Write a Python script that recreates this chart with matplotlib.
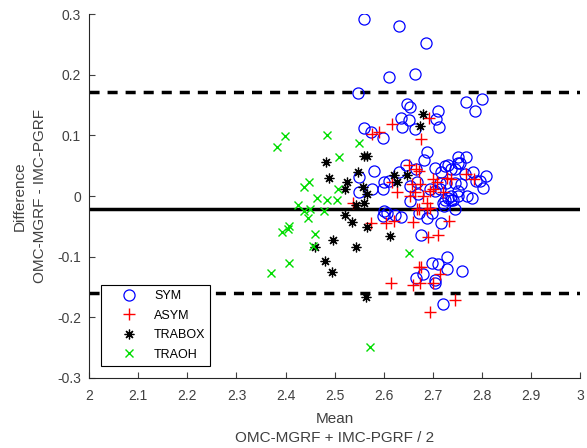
import matplotlib
matplotlib.use('Agg')
import matplotlib.pyplot as plt

plt.rcParams['font.family'] = ['Liberation Sans', 'DejaVu Sans']

# --- data (mean, difference) ---
sym_x = [2.560, 2.631, 2.687, 2.611, 2.663, 2.547, 2.767, 2.800, 2.787, 2.647,
         2.653, 2.710, 2.635, 2.651, 2.637, 2.664, 2.706, 2.712, 2.560, 2.574,
         2.598, 2.689, 2.683, 2.751, 2.768, 2.751, 2.731, 2.581, 2.549, 2.645,
         2.705, 2.717, 2.745, 2.766, 2.783, 2.808, 2.665, 2.632, 2.601, 2.611,
         2.599, 2.576, 2.549, 2.802, 2.796, 2.758, 2.770, 2.780, 2.751, 2.738,
         2.737, 2.721, 2.722, 2.745, 2.705, 2.715, 2.694, 2.654, 2.667, 2.669,
         2.653, 2.601, 2.606, 2.598, 2.623, 2.635, 2.671, 2.688, 2.698, 2.717,
         2.677, 2.729, 2.698, 2.711, 2.729, 2.760, 2.681, 2.666, 2.705, 2.705,
         2.721, 2.725, 2.738, 2.715, 2.728, 2.745, 2.752, 2.732, 2.725, 2.742,
         2.789, 2.755]
sym_y = [0.293, 0.280, 0.252, 0.196, 0.201, 0.170, 0.155, 0.161, 0.141, 0.152,
         0.147, 0.141, 0.128, 0.125, 0.114, 0.110, 0.127, 0.114, 0.113, 0.106,
         0.096, 0.073, 0.059, 0.064, 0.064, 0.054, 0.052, 0.041, 0.032, 0.051,
         0.046, 0.040, 0.044, 0.037, 0.040, 0.033, 0.045, 0.039, 0.023, 0.025,
         0.011, 0.012, 0.006, 0.013, 0.025, 0.019, 0.000, -0.004, 0.000, 0.000,
         -0.007, -0.011, -0.017, -0.021, 0.008, 0.012, 0.011, 0.017, 0.023, 0.003,
         -0.008, -0.024, -0.028, -0.033, -0.032, -0.035, -0.028, -0.037, -0.028, -0.044,
         -0.064, -0.100, -0.110, -0.112, -0.120, -0.124, -0.129, -0.135, -0.139, -0.143,
         -0.179, 0.050, 0.044, 0.022, 0.022, 0.022, 0.008, -0.003, -0.006, -0.006,
         0.025, 0.055]

asym_x = [2.618, 2.692, 2.577, 2.591, 2.677, 2.652, 2.665, 2.671, 2.700, 2.708,
          2.730, 2.737, 2.768, 2.785, 2.616, 2.628, 2.657, 2.674, 2.664, 2.653,
          2.694, 2.700, 2.721, 2.680, 2.538, 2.667, 2.688, 2.688, 2.694, 2.673,
          2.575, 2.605, 2.622, 2.660, 2.734, 2.690, 2.711, 2.671, 2.676, 2.715,
          2.614, 2.659, 2.675, 2.701, 2.746, 2.694]
asym_y = [0.119, 0.129, 0.103, 0.105, 0.094, 0.051, 0.045, 0.041, 0.028, 0.023,
          0.030, 0.028, 0.036, 0.028, 0.023, 0.006, 0.019, 0.020, 0.006, 0.000,
          0.008, 0.011, 0.006, 0.000, -0.012, -0.021, -0.022, -0.011, -0.019, -0.021,
          -0.045, -0.045, -0.042, -0.043, -0.041, -0.068, -0.064, -0.117, -0.117, -0.128,
          -0.143, -0.147, -0.143, -0.143, -0.172, -0.191]

trabox_x = [2.681, 2.675, 2.560, 2.567, 2.482, 2.489, 2.547, 2.526, 2.521, 2.558,
            2.567, 2.622, 2.628, 2.648, 2.543, 2.560, 2.522, 2.536, 2.567, 2.613,
            2.497, 2.460, 2.543, 2.480, 2.495, 2.564]
trabox_y = [0.135, 0.116, 0.066, 0.066, 0.056, 0.030, 0.040, 0.023, 0.012, 0.015,
            0.003, 0.035, 0.023, 0.035, -0.015, -0.012, -0.031, -0.043, -0.052, -0.066,
            -0.073, -0.085, -0.085, -0.108, -0.125, -0.167]

traoh_x = [2.399, 2.383, 2.484, 2.550, 2.510, 2.447, 2.438, 2.507, 2.465, 2.485,
           2.505, 2.425, 2.438, 2.450, 2.478, 2.446, 2.408, 2.392, 2.406, 2.460,
           2.455, 2.408, 2.371, 2.651, 2.573]
traoh_y = [0.099, 0.081, 0.101, 0.088, 0.064, 0.023, 0.015, 0.011, -0.004, -0.006,
           -0.007, -0.015, -0.025, -0.022, -0.024, -0.037, -0.050, -0.059, -0.055, -0.063,
           -0.083, -0.110, -0.127, -0.094, -0.249]

mean_diff = -0.021
upper_loa = 0.171
lower_loa = -0.160

xticks = [2, 2.1, 2.2, 2.3, 2.4, 2.5, 2.6, 2.7, 2.8, 2.9, 3]
xtick_labels = ['2', '2.1', '2.2', '2.3', '2.4', '2.5', '2.6', '2.7', '2.8', '2.9', '3']
yticks = [-0.3, -0.2, -0.1, 0, 0.1, 0.2, 0.3]
ytick_labels = ['-0.3', '-0.2', '-0.1', '0', '0.1', '0.2', '0.3']

fig = plt.figure(figsize=(5.87, 4.48), dpi=100)
ax = fig.add_axes([0.152, 0.157, 0.836, 0.811])

ax.plot(sym_x, sym_y, 'o', mfc='none', mec='blue', ms=8, mew=0.9, label='SYM', zorder=3)
ax.plot(asym_x, asym_y, '+', color='red', ms=9, mew=1.0, label='ASYM', zorder=3)
ax.plot(trabox_x, trabox_y, ls='none', marker=(8, 2, 0), color='black', ms=7, mew=0.9,
        label='TRABOX', zorder=3)
ax.plot(traoh_x, traoh_y, 'x', color='#00dd00', ms=6, mew=1.0, label='TRAOH', zorder=3)

ax.axhline(mean_diff, color='black', lw=2.5, zorder=2)
ax.axhline(upper_loa, color='black', lw=2.5, ls=(0, (2.9, 2.3)), zorder=2)
ax.axhline(lower_loa, color='black', lw=2.5, ls=(0, (2.9, 2.3)), zorder=2)

ax.set_xlim(2, 3)
ax.set_ylim(-0.3, 0.3)
ax.set_xticks(xticks)
ax.set_xticklabels(xtick_labels)
ax.set_yticks(yticks)
ax.set_yticklabels(ytick_labels)
ax.tick_params(direction='in', length=4, labelsize=10, colors='#404040')
ax.tick_params(axis='x', pad=8)
ax.tick_params(axis='y', pad=6)
for s in ['top', 'right']:
    ax.spines[s].set_visible(False)
for s in ['left', 'bottom']:
    ax.spines[s].set_color('#262626')

ax.set_xlabel('Mean\nOMC-MGRF + IMC-PGRF / 2', fontsize=11, color='#404040',
              linespacing=1.4, labelpad=7)
ax.set_ylabel('Difference\nOMC-MGRF - IMC-PGRF', fontsize=11, color='#404040',
              linespacing=1.6, labelpad=7)

leg = ax.legend(loc='lower left', bbox_to_anchor=(0.025, 0.033), borderaxespad=0,
                fontsize=9, frameon=True, fancybox=False, framealpha=1,
                handlelength=3.6, handletextpad=0.2, labelspacing=0.6, borderpad=0.4)
leg.get_frame().set_edgecolor('black')
leg.get_frame().set_linewidth(0.8)

fig.savefig('out.png', dpi=100)
